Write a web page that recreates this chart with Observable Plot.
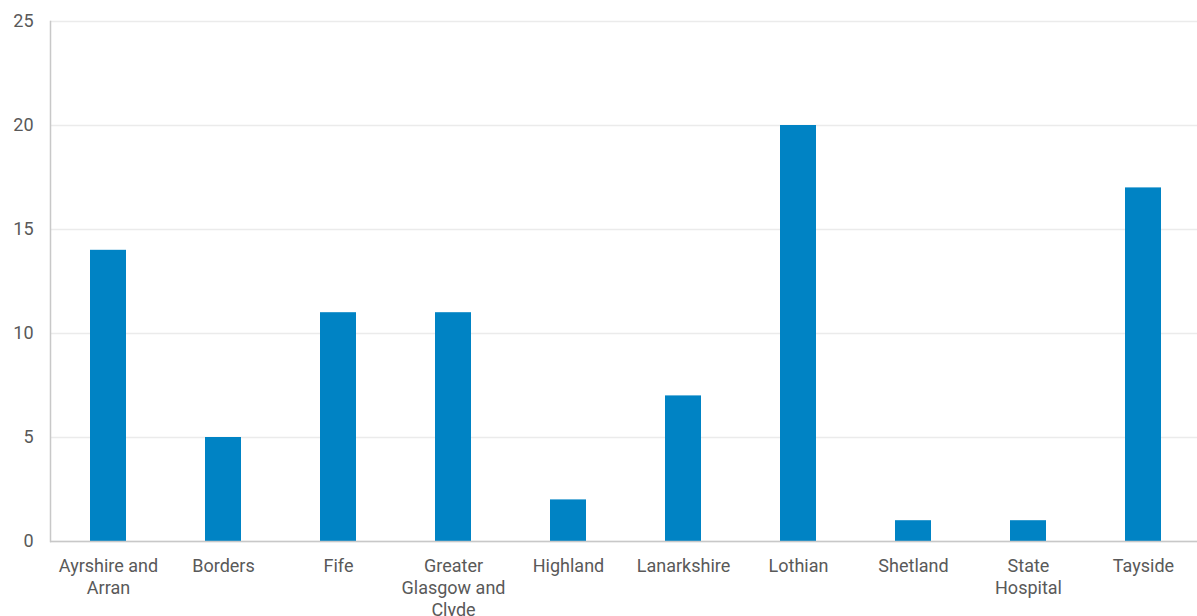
<!DOCTYPE html>
<html>
<head>
<meta charset="utf-8">
<script src="https://cdn.jsdelivr.net/npm/d3@7"></script>
<script src="https://cdn.jsdelivr.net/npm/@observablehq/plot@0.6"></script>
<style>
  html, body { margin: 0; padding: 0; background: #fff; }
  #chart { width: 1197px; height: 616px; overflow: hidden; }
</style>
</head>
<body>
<div id="chart"></div>
<script>
const categories = ["Ayrshire and Arran", "Borders", "Fife", "Greater Glasgow and Clyde", "Highland", "Lanarkshire", "Lothian", "Shetland", "State Hospital", "Tayside"];
const tickLabels = ["Ayrshire and\nArran", "Borders", "Fife", "Greater\nGlasgow and\nClyde", "Highland", "Lanarkshire", "Lothian", "Shetland", "State\nHospital", "Tayside"];
const values = [14, 5, 11, 11, 2, 7, 20, 1, 1, 17];
const yTicks = [0, 5, 10, 15, 20, 25];

const data = categories.map((c, i) => ({ category: c, value: values[i] }));
const labelOf = new Map(categories.map((c, i) => [c, tickLabels[i]]));

const chart = Plot.plot({
  width: 1197,
  height: 616,
  marginTop: 21,
  marginBottom: 75,
  marginLeft: 50,
  marginRight: 0,
  style: { fontFamily: "Roboto, sans-serif", fontSize: "18px", color: "#595959", background: "#fff" },
  x: { domain: categories, range: [50, 1201], paddingInner: 0.687, paddingOuter: 0.3435, label: null },
  y: { domain: [0, 25], label: null },
  marks: [
    Plot.gridY(yTicks, { stroke: "#ebebeb", strokeOpacity: 1, strokeWidth: 1.5 }),
    Plot.barY(data, { x: "category", y: "value", fill: "#0083c4" }),
    Plot.ruleY([0], { stroke: "#c8c8c8", strokeWidth: 1.5 }),
    Plot.frame({ anchor: "left", stroke: "#c8c8c8", strokeWidth: 1.5 }),
    Plot.axisY({ ticks: yTicks, tickSize: 0, tickPadding: 17, label: null, fill: "#595959", fontSize: 18 }),
    Plot.axisX({ tickSize: 0, tickPadding: 15, label: null, tickFormat: d => labelOf.get(d), fill: "#595959", fontSize: 18, lineHeight: 1.22 })
  ]
});
document.getElementById("chart").appendChild(chart);
</script>
</body>
</html>
